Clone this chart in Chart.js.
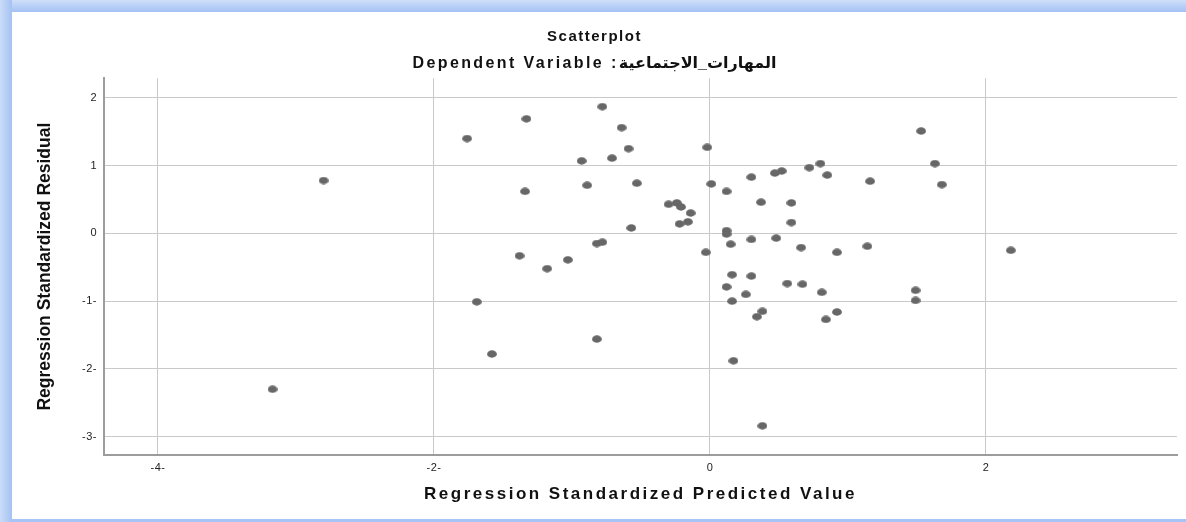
<!DOCTYPE html>
<html>
<head>
<meta charset="utf-8">
<script src="https://cdn.jsdelivr.net/npm/chart.js@4.4.1/dist/chart.umd.min.js"></script>
<style>
  html, body { margin: 0; padding: 0; }
  body { width: 1186px; height: 522px; background: #a6c4f5; position: relative; overflow: hidden; }
  #topband { position: absolute; left: 0; top: 0; width: 1186px; height: 12px; background: linear-gradient(to bottom, #cfdff9, #a4c2f4); }
  #leftband { position: absolute; left: 0; top: 0; width: 12px; height: 522px; background: linear-gradient(to right, #cadcf9, #a4c2f4); }
  #wrap { position: absolute; left: 12px; top: 12px; width: 1174px; height: 507px; background: #ffffff; }
</style>
</head>
<body>
<div id="topband"></div>
<div id="leftband"></div>
<div id="wrap"><canvas id="c"></canvas></div>
<script>
const predictedValues = [
  -3.17, -2.80, -1.76, -1.69, -1.58, -1.38, -1.34, -1.33, -1.18, -1.03,
  -0.93, -0.89, -0.82, -0.78, -0.82, -0.78, -0.71, -0.64, -0.59, -0.57,
  -0.53, -0.30, -0.24, -0.21, -0.22, -0.16, -0.14, -0.03, -0.02, 0.01,
  0.12, 0.12, 0.12, 0.12, 0.15, 0.16, 0.16, 0.17, 0.26, 0.30,
  0.30, 0.30, 0.34, 0.37, 0.38, 0.38, 0.47, 0.52, 0.48, 0.56,
  0.59, 0.59, 0.66, 0.67, 0.72, 0.80, 0.81, 0.85, 0.84, 0.92,
  0.92, 1.14, 1.16, 1.49, 1.49, 1.53, 1.63, 1.68, 2.18
];
const residualValues = [
  -2.30, 0.78, 1.40, -1.01, -1.78, -0.33, 0.62, 1.69, -0.52, -0.39,
  1.07, 0.71, -0.15, -0.13, -1.56, 1.87, 1.11, 1.56, 1.25, 0.08,
  0.74, 0.43, 0.45, 0.39, 0.14, 0.17, 0.30, -0.28, 1.27, 0.73,
  0.04, -0.01, 0.62, -0.79, -0.16, -1.00, -0.61, -1.88, -0.90, -0.09,
  0.83, -0.63, -1.23, 0.46, -1.15, -2.84, 0.89, 0.92, -0.07, -0.74,
  0.16, 0.45, -0.21, -0.75, 0.97, 1.03, -0.87, 0.86, -1.27, -0.28,
  -1.16, -0.19, 0.77, -0.84, -0.99, 1.51, 1.03, 0.72, -0.25
];
const xTickValues = [-4, -2, 0, 2];
const xTickLabels = ['-4-', '-2-', '0', '2'];
const yTickValues = [-3, -2, -1, 0, 1, 2];
const yTickLabels = ['-3-', '-2-', '-1-', '0', '1', '2'];
const chartTitle = 'Scatterplot';
const chartSubtitle = 'Dependent Variable :المهارات_الاجتماعية';
const xAxisTitle = 'Regression Standardized Predicted Value';
const yAxisTitle = 'Regression Standardized Residual';

// ---- Styling ----
const FONT = "'Liberation Sans', Arial, 'DejaVu Sans', sans-serif";
const dot = document.createElement('canvas');
dot.width = 10; dot.height = 8;
(function () {
  const g = dot.getContext('2d');
  g.fillStyle = '#676767';
  g.beginPath();
  g.ellipse(5, 4, 4.9, 3.7, 0, 0, Math.PI * 2);
  g.fill();
})();

const points = predictedValues.map((x, i) => ({ x: x, y: residualValues[i] }));

// letter spacing for horizontally stretched text
const spacingPlugin = {
  id: 'letterSpacing',
  beforeDraw(chart) {
    const ctx = chart.ctx;
    const wrap = (obj, method, sp) => {
      if (!obj || obj['__ls_' + method]) return;
      const orig = obj[method];
      obj[method] = function () {
        const prev = ctx.letterSpacing;
        ctx.letterSpacing = sp;
        try { return orig.apply(this, arguments); } finally { ctx.letterSpacing = prev || '0px'; }
      };
      obj['__ls_' + method] = true;
    };
    chart.boxes.forEach(b => {
      if (b === chart.titleBlock) wrap(b, 'draw', '1.5px');
      else if (b.options && b.options.text === chartSubtitle) wrap(b, 'draw', '2.4px');
    });
    wrap(chart.scales.x, 'drawTitle', '2.5px');
    wrap(chart.scales.x, 'drawLabels', '0.5px');
    wrap(chart.scales.y, 'drawLabels', '0.5px');
  }
};

new Chart(document.getElementById('c'), {
  type: 'scatter',
  data: {
    datasets: [{
      data: points,
      pointStyle: dot,
      pointRadius: 4,
      pointHoverRadius: 4,
      backgroundColor: '#676767',
      borderColor: '#676767'
    }]
  },
  plugins: [spacingPlugin],
  options: {
    responsive: true,
    maintainAspectRatio: false,
    animation: false,
    layout: { padding: { left: 0, right: 9, top: 0, bottom: 0 } },
    plugins: {
      legend: { display: false },
      tooltip: { enabled: false },
      title: {
        display: true,
        text: chartTitle,
        color: '#111111',
        font: { family: FONT, size: 15, weight: 'bold', lineHeight: 1.2 },
        padding: { top: 16, bottom: 8 }
      },
      subtitle: {
        display: true,
        text: chartSubtitle,
        color: '#111111',
        font: { family: FONT, size: 16, weight: 'bold', lineHeight: 1.2 },
        padding: { top: 0, bottom: 5 }
      }
    },
    scales: {
      x: {
        type: 'linear',
        min: -4.391,
        max: 3.384,
        afterBuildTicks: s => { s.ticks = xTickValues.map(v => ({ value: v })); },
        afterFit: s => { s.height = 64; },
        ticks: {
          color: '#222222',
          font: { family: FONT, size: 11 },
          padding: 6,
          callback: v => xTickLabels[xTickValues.indexOf(v)]
        },
        grid: { color: '#c9c9c9', lineWidth: 1, drawTicks: false },
        border: { display: true, color: '#9c9c9c', width: 2 },
        title: {
          display: true,
          text: xAxisTitle,
          color: '#111111',
          font: { family: FONT, size: 17, weight: 'bold', lineHeight: 1.2 },
          padding: { top: 0, bottom: 14 }
        }
      },
      y: {
        type: 'linear',
        min: -3.27,
        max: 2.29,
        afterBuildTicks: s => { s.ticks = yTickValues.map(v => ({ value: v })); },
        afterFit: s => { s.width = 92; },
        ticks: {
          color: '#222222',
          font: { family: FONT, size: 11 },
          padding: 7,
          callback: v => yTickLabels[yTickValues.indexOf(v)]
        },
        grid: { color: '#c9c9c9', lineWidth: 1, drawTicks: false },
        border: { display: true, color: '#9c9c9c', width: 2 },
        title: {
          display: true,
          text: yAxisTitle,
          color: '#111111',
          font: { family: FONT, size: 17.5, weight: 'bold', lineHeight: 1.2 },
          padding: { top: 23, bottom: 0 }
        }
      }
    }
  }
});
</script>
</body>
</html>
